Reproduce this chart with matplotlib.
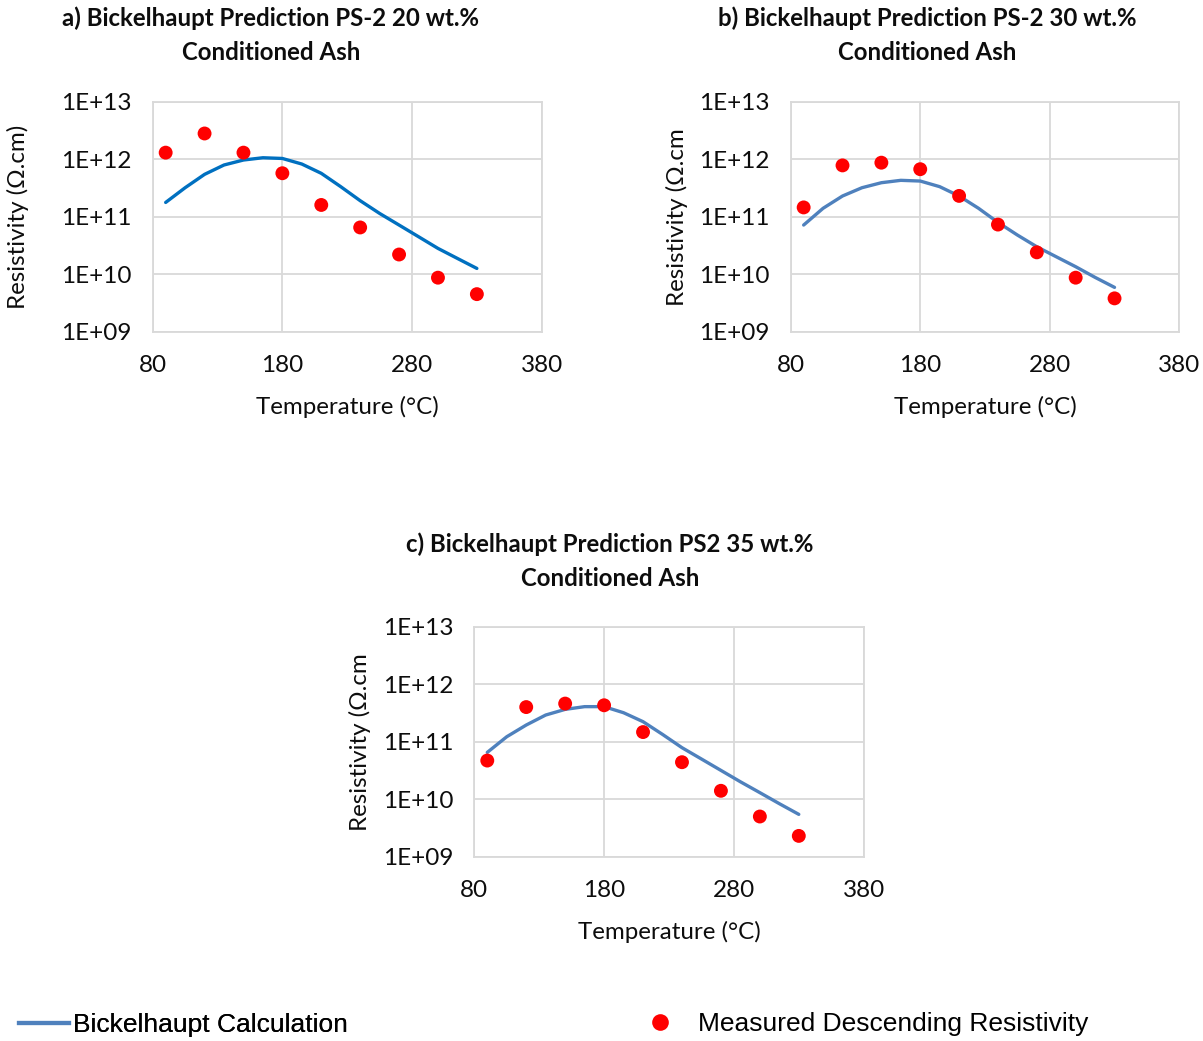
import numpy as np
import matplotlib
matplotlib.use("Agg")
import matplotlib.pyplot as plt
from matplotlib.lines import Line2D
from matplotlib.ticker import FixedLocator, FuncFormatter, NullLocator

# ---------------- data ----------------
temp_meas = [90, 120, 150, 180, 210, 240, 270, 300, 330]
temp_calc = [90, 105, 120, 135, 150, 165, 180, 195, 210, 225, 240, 255, 270, 285, 300, 315, 330]

a_meas = [1.3e12, 2.8e12, 1.3e12, 5.7e11, 1.6e11, 6.5e10, 2.2e10, 8.7e9, 4.5e9]
a_calc = [1.77e11, 3.19e11, 5.45e11, 7.93e11, 9.68e11, 1.06e12, 1.03e12, 8.24e11, 5.68e11,
          3.33e11, 1.90e11, 1.14e11, 7.16e10, 4.49e10, 2.81e10, 1.88e10, 1.26e10]

b_meas = [1.45e11, 7.8e11, 8.7e11, 6.7e11, 2.3e11, 7.3e10, 2.4e10, 8.7e9, 3.8e9]
b_calc = [7.16e10, 1.40e11, 2.29e11, 3.19e11, 3.90e11, 4.29e11, 4.17e11, 3.33e11, 2.29e11,
          1.40e11, 7.96e10, 4.80e10, 3.00e10, 2.01e10, 1.35e10, 8.8e9, 5.90e9]

c_meas = [4.7e10, 4.0e11, 4.6e11, 4.3e11, 1.47e11, 4.4e10, 1.4e10, 5.0e9, 2.3e9]
c_calc = [6.52e10, 1.22e11, 1.95e11, 2.91e11, 3.65e11, 4.07e11, 4.07e11, 3.19e11, 2.23e11,
          1.34e11, 7.87e10, 5.0e10, 3.17e10, 2.01e10, 1.30e10, 8.36e9, 5.45e9]

titles = ["a) Bickelhaupt Prediction PS-2 20 wt.%\nConditioned Ash",
          "b) Bickelhaupt Prediction PS-2 30 wt.%\nConditioned Ash",
          "c) Bickelhaupt Prediction PS2 35 wt.%\nConditioned Ash"]
ylabels = ["Resistivity (\u03a9.cm)", "Resistivity (\u03a9.cm", "Resistivity (\u03a9.cm"]
xlabel = "Temperature (\u00b0C)"
x_ticks = [80, 180, 280, 380]
y_ticks = [1e9, 1e10, 1e11, 1e12, 1e13]
legend_labels = ["Bickelhaupt Calculation", "Measured Descending Resistivity"]

# ---------------- style ----------------
W, H = 1203, 1041
FONT = "Lato"
grid_c = "#D9D9D9"
line_colors = ["#0070C0", "#4F81BD", "#4F81BD"]
red = "#FF0000"
txt_c = "#0D0D0D"

fig = plt.figure(figsize=(W / 100, H / 100), dpi=100)

# axes boxes in pixels: left, right, top, bottom
boxes = [(152.7, 541.7, 101.7, 331.7),
         (790.7, 1179.3, 101.7, 331.7),
         (474.3, 863.7, 626.7, 856.7)]
title_pos = [(271, 35), (927, 35), (610, 561)]
ylabel_x = [18, 677, 360]

meas = [a_meas, b_meas, c_meas]
calc = [a_calc, b_calc, c_calc]

for i in range(3):
    l, r, t, b = boxes[i]
    ax = fig.add_axes([l / W, 1 - b / H, (r - l) / W, (b - t) / H])
    ax.set_yscale("log")
    ax.set_xlim(80, 380)
    ax.set_ylim(1e9, 1e13)
    ax.plot(temp_calc, calc[i], color=line_colors[i], lw=2.4, zorder=3,
            solid_capstyle="round", solid_joinstyle="round")
    ax.scatter(temp_meas, meas[i], s=100, color=red, edgecolors="none", zorder=4)

    ax.xaxis.set_major_locator(FixedLocator(x_ticks))
    ax.yaxis.set_major_locator(FixedLocator(y_ticks))
    ax.yaxis.set_minor_locator(NullLocator())
    ax.yaxis.set_major_formatter(FuncFormatter(lambda v, p: "1E+%02d" % int(round(np.log10(v)))))
    ax.tick_params(axis="both", length=0, labelsize=17.5, labelcolor=txt_c)
    ax.tick_params(axis="y", pad=15)
    ax.tick_params(axis="x", pad=17)
    for lab in ax.get_xticklabels() + ax.get_yticklabels():
        lab.set_fontfamily(FONT)
    ax.grid(True, color=grid_c, lw=1.3, zorder=0)
    ax.set_axisbelow(True)
    for sp in ax.spines.values():
        sp.set_color(grid_c)
        sp.set_linewidth(1.3)

    ax.set_xlabel(xlabel, fontsize=17.4, family=FONT, color=txt_c, va="center")
    ax.xaxis.set_label_coords(0.5, -75.5 / (b - t))
    ax.set_ylabel(ylabels[i], fontsize=17.4, family=FONT, color=txt_c, va="center")
    ax.yaxis.set_label_coords((ylabel_x[i] - l) / (r - l), 0.5)

    tx, ty = title_pos[i]
    fig.text(tx / W, 1 - ty / H, titles[i], ha="center", va="center", fontsize=17.3,
             fontweight="bold", family=FONT, linespacing=1.55, color=txt_c)

# ---------------- legend ----------------
fs_leg = 19
em = fs_leg * 100 / 72
h_line = Line2D([], [], color="#4F81BD", lw=3)
h_pt = Line2D([], [], color=red, marker="o", markersize=12, linestyle="none", markeredgewidth=0)
leg1 = fig.legend(handles=[h_line], labels=[legend_labels[0]], loc="center left",
                  bbox_to_anchor=(19 / W, 1 - 1025 / H), frameon=False,
                  prop={"family": "Liberation Sans", "size": fs_leg},
                  handlelength=50 / em, handletextpad=4 / em, borderpad=0, borderaxespad=0)
fig.add_artist(leg1)
fig.legend(handles=[h_pt], labels=[legend_labels[1]], loc="center left",
           bbox_to_anchor=(648 / W, 1 - 1024 / H), frameon=False,
           prop={"family": "Liberation Sans", "size": fs_leg},
           handlelength=24 / em, handletextpad=26 / em, borderpad=0, borderaxespad=0)

fig.savefig("out.png", dpi=100)
